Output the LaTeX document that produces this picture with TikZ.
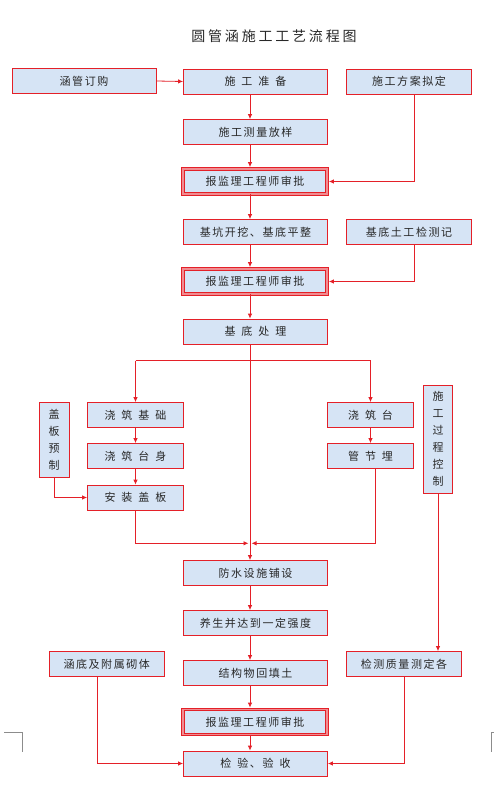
\documentclass[tikz,border=0pt]{standalone}
\usepackage{fontspec}
\usetikzlibrary{arrows.meta,calc}
\newfontfamily\cjkbox[LetterSpace=14]{Noto Sans CJK SC}
\newfontfamily\cjktitle[LetterSpace=20]{Noto Sans CJK SC}
\newcommand\widespaces{\spaceskip=6pt plus 1pt\relax}
\definecolor{lred}{RGB}{228,32,40}
\definecolor{bfill}{RGB}{214,228,245}
\definecolor{pinkgap}{RGB}{240,140,145}
\definecolor{txt}{RGB}{40,40,40}
\definecolor{markgray}{RGB}{140,140,140}
\tikzset{
  box/.style={draw=lred, line width=0.8pt, fill=bfill, minimum width=144pt, minimum height=25pt,
    inner sep=0pt, text=txt, font=\fontsize{11}{13}\selectfont\cjkbox},
  spaced/.style={execute at begin node=\widespaces},
  dbox/.style={box, double=pinkgap, double distance=1.6pt, line width=0.75pt},
  vbox/.style={box, align=center, font=\fontsize{11}{17}\selectfont\cjkbox},
  conn/.style={draw=lred, line width=0.8pt, -{Latex[length=5pt,width=4.5pt]}},
  cropmark/.style={draw=markgray, line width=0.7pt}
}
\begin{document}
\begin{tikzpicture}[x=1pt,y=-1pt]
\useasboundingbox (0,0) rectangle (494,786);
\node[text=txt, font=\fontsize{14}{16}\selectfont\cjktitle] (title) at (274,36) {圆管涵施工工艺流程图};
% top row
\node[box] (order) at (84,81) {涵管订购};
\node[box, spaced] (prep) at (255.5,81.5) {施 工 准 备};
\node[box, minimum width=125pt] (plan) at (409,81.5) {施工方案拟定};
\node[box] (survey) at (255.5,132) {施工测量放样};
\node[dbox] (ap1) at (255,181.5) {报监理工程师审批};
\node[box] (exc) at (255.5,232) {基坑开挖、基底平整};
\node[box, minimum width=125pt] (soil) at (409,232) {基底土工检测记};
\node[dbox] (ap2) at (255,281.5) {报监理工程师审批};
\node[box, spaced] (base) at (255.5,331.5) {基 底 处 理};
% branches
\node[vbox, minimum width=30pt, minimum height=75pt] (gaiban) at (54,440) {盖\\板\\预\\制};
\node[box, spaced, minimum width=96pt] (pour1) at (135.5,415) {浇 筑 基 础};
\node[box, spaced, minimum width=96pt] (body) at (135.5,456) {浇 筑 台 身};
\node[box, spaced, minimum width=96pt] (install) at (135.5,497.5) {安 装 盖 板};
\node[box, spaced, minimum width=86pt] (plat) at (370.5,415) {浇 筑 台};
\node[box, spaced, minimum width=86pt] (pipe) at (370.5,456) {管 节 埋};
\node[vbox, minimum width=29pt, minimum height=108pt] (ctrl) at (438,439) {施\\工\\过\\程\\控\\制};
% lower
\node[box] (water) at (255.5,573) {防水设施铺设};
\node[box] (cure) at (255.5,623) {养生并达到一定强度};
\node[box, minimum width=115pt] (culv) at (106.75,664) {涵底及附属砌体};
\node[box] (fill) at (255.5,673) {结构物回填土};
\node[box, minimum width=115pt] (qc) at (404,664) {检测质量测定各};
\node[dbox] (ap3) at (255,722) {报监理工程师审批};
\node[box, spaced] (final) at (255.5,763.5) {检 验、验 收};
% connectors
\draw[conn] (order.east) -- (prep.west);
\draw[conn] ([xshift=-5.5pt]prep.south) -- ([xshift=-5.5pt]survey.north);
\draw[conn, shorten >=1.5pt] ([xshift=-5.5pt]survey.south) -- ([xshift=-5pt]ap1.north);
\draw[conn, shorten >=1.5pt] ([xshift=5pt]plan.south) |- (ap1.east);
\draw[conn] ([xshift=-5pt]ap1.south) -- ([xshift=-5.5pt]exc.north);
\draw[conn, shorten >=1.5pt] ([xshift=-5.5pt]exc.south) -- ([xshift=-5pt]ap2.north);
\draw[conn, shorten >=1.5pt] ([xshift=5pt]soil.south) |- (ap2.east);
\draw[conn] ([xshift=-5pt]ap2.south) -- ([xshift=-5.5pt]base.north);
\draw[conn] ([xshift=-5.5pt]base.south) -- ([xshift=-5.5pt]water.north);
\coordinate (split) at (250,360.7);
\draw[draw=lred, line width=0.8pt] (pour1.north |- split) -- (plat.north |- split);
\draw[conn] (pour1.north |- split) -- (pour1.north);
\draw[conn] (plat.north |- split) -- (plat.north);
\draw[conn] (pour1.south) -- (body.north);
\draw[conn] (body.south) -- (install.north);
\draw[conn] (plat.south) -- (pipe.north);
\draw[conn] (gaiban.south) |- (install.west);
\coordinate (merge) at (250,543.3);
\draw[conn, shorten >=1.5pt] (install.south) |- (merge);
\draw[conn, shorten >=1.5pt] ([xshift=5pt]pipe.south) |- (merge);
\draw[conn] (ctrl.south) -- (ctrl.south |- qc.north);
\draw[conn] ([xshift=-5.5pt]water.south) -- ([xshift=-5.5pt]cure.north);
\draw[conn] ([xshift=-5.5pt]cure.south) -- ([xshift=-5.5pt]fill.north);
\draw[conn, shorten >=1.5pt] ([xshift=-5.5pt]fill.south) -- ([xshift=-5pt]ap3.north);
\draw[conn] ([xshift=-5pt]ap3.south) -- ([xshift=-5.5pt]final.north);
\draw[conn] ([xshift=-9.5pt]culv.south) |- (final.west);
\draw[conn] (qc.south) |- (final.east);
% crop marks
\draw[cropmark] (4,732) -- (22.7,732) -- (22.7,752);
\draw[cropmark] (494,732) -- (491.7,732) -- (491.7,752);
\end{tikzpicture}
\end{document}
